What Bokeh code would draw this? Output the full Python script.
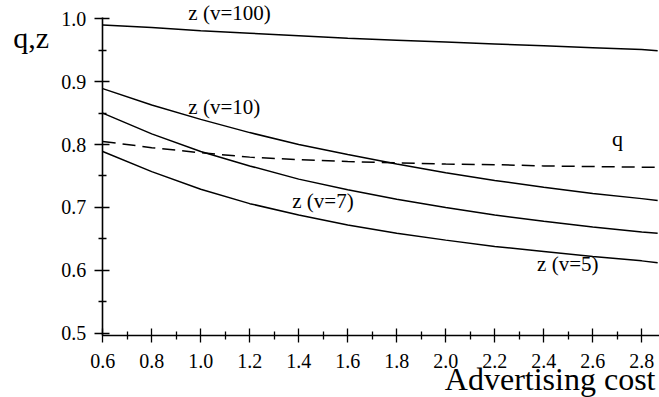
from bokeh.plotting import figure
from bokeh.models import Range1d, FixedTicker, Label
from bokeh.embed import file_html
from bokeh.resources import INLINE

# Data
cost = [0.6, 0.8, 1.0, 1.2, 1.4, 1.6, 1.8, 2.0, 2.2, 2.4, 2.6, 2.8, 2.865]
z_v100 = [0.990, 0.986, 0.981, 0.977, 0.973, 0.969, 0.966, 0.963, 0.960, 0.957, 0.954, 0.951, 0.949]
z_v10 = [0.889, 0.863, 0.840, 0.819, 0.800, 0.784, 0.769, 0.755, 0.743, 0.732, 0.722, 0.714, 0.711]
z_v7 = [0.850, 0.817, 0.789, 0.766, 0.745, 0.728, 0.713, 0.700, 0.688, 0.678, 0.669, 0.661, 0.659]
z_v5 = [0.789, 0.757, 0.729, 0.706, 0.688, 0.672, 0.659, 0.648, 0.638, 0.630, 0.622, 0.615, 0.612]
q = [0.805, 0.795, 0.787, 0.780, 0.776, 0.773, 0.771, 0.769, 0.768, 0.766, 0.765, 0.764, 0.764]

x_ticks = [0.6, 0.8, 1.0, 1.2, 1.4, 1.6, 1.8, 2.0, 2.2, 2.4, 2.6, 2.8]
x_minor = [0.7, 0.9, 1.1, 1.3, 1.5, 1.7, 1.9, 2.1, 2.3, 2.5, 2.7]
y_ticks = [0.5, 0.6, 0.7, 0.8, 0.9, 1.0]
y_minor = [0.55, 0.65, 0.75, 0.85, 0.95]

curve_labels = ["z (v=100)", "z (v=10)", "z (v=7)", "z (v=5)", "q"]
label_x = [0.9495, 0.9495, 1.3737, 2.3728, 2.6787]
label_y = [1.0100, 0.8600, 0.7099, 0.6108, 0.8096]
label_size = ["21px", "21px", "21px", "21px", "22px"]

# axis extents (data units)
x_axis_start, x_axis_end = 0.5976, 2.8722
y_axis_start, y_axis_end = 0.4963, 1.0021

FONT = "Liberation Serif"

p = figure(width=659, height=397, output_backend="svg", toolbar_location=None,
           title=None,
           x_range=Range1d(0.1828, 2.8725), y_range=Range1d(0.3977, 1.0291),
           min_border_left=0, min_border_right=0, min_border_top=0,
           min_border_bottom=0)
p.outline_line_color = None
p.grid.visible = False
p.background_fill_color = "white"
p.border_fill_color = "white"

for ax in (p.xaxis[0], p.yaxis[0]):
    ax.axis_line_color = "black"
    ax.axis_line_width = 1.6
    ax.major_tick_line_color = "black"
    ax.minor_tick_line_color = "black"
    ax.major_tick_line_width = 1.3
    ax.minor_tick_line_width = 1.3
    ax.major_label_text_font = FONT
    ax.major_label_text_font_size = "20px"
    ax.major_label_text_color = "black"

xa = p.xaxis[0]
ya = p.yaxis[0]
xa.ticker = FixedTicker(ticks=x_ticks, minor_ticks=x_minor)
ya.ticker = FixedTicker(ticks=y_ticks, minor_ticks=y_minor)
xa.major_label_overrides = {t: f"{t:.1f}" for t in x_ticks}
ya.major_label_overrides = {t: f"{t:.1f}" for t in y_ticks}
xa.fixed_location = y_axis_start
ya.fixed_location = x_axis_start
xa.bounds = (x_axis_start, x_axis_end)
ya.bounds = (y_axis_start, y_axis_end)
xa.major_tick_in = 7
xa.major_tick_out = 7
xa.minor_tick_in = 4
xa.minor_tick_out = 4
ya.major_tick_in = 7
ya.major_tick_out = 8
ya.minor_tick_in = 4
ya.minor_tick_out = 4
xa.major_label_standoff = 11
ya.major_label_standoff = 8

for ys in (z_v100, z_v10, z_v7, z_v5):
    p.line(cost, ys, line_color="black", line_width=1.5)
p.line(cost, q, line_color="black", line_width=1.5, line_dash="13 7")

for txt, lx, ly, fs in zip(curve_labels, label_x, label_y, label_size):
    p.add_layout(Label(x=lx, y=ly, text=txt, text_font=FONT, text_font_size=fs,
                       text_color="black", text_baseline="alphabetic"))

p.add_layout(Label(x=12.7, y=360, x_units="screen", y_units="screen", text="q,z",
                   text_font=FONT, text_font_size="30px", text_color="black",
                   text_baseline="alphabetic"))
p.add_layout(Label(x=655, y=19, x_units="screen", y_units="screen", text="Advertising cost",
                   text_font=FONT, text_font_size="32px", text_color="black",
                   text_align="right", text_baseline="alphabetic"))

open("out.html", "w").write(file_html(p, INLINE))
